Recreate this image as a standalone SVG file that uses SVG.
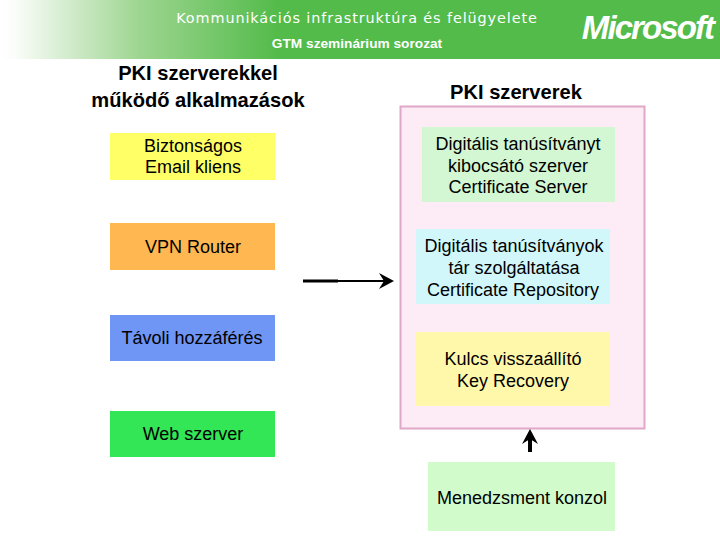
<svg xmlns="http://www.w3.org/2000/svg" width="720" height="540" viewBox="0 0 720 540">
<style>
text{font-family:"Liberation Sans",Arial,sans-serif;fill:#000;text-anchor:middle}
.n{font-size:18px}
.h{font-size:20.100px;font-weight:bold}
.c{fill:none;stroke:#000;stroke-linecap:butt}
</style>
<defs>
<linearGradient id="g" x1="0" x2="1" y1="0" y2="0">
<stop offset="0" stop-color="#fff"/><stop offset="0.05" stop-color="#fbfdfa"/><stop offset="0.5" stop-color="#9dd590"/><stop offset="1" stop-color="#52bb49"/>
</linearGradient>
</defs>
<g id="header">
<rect x="0" y="0" width="720" height="59" fill="#52bb49"/>
<rect x="0" y="0" width="280" height="59" fill="url(#g)"/>
<text x="357" y="23" style="font-family:'DejaVu Sans',sans-serif;fill:#fff;font-size:14.400px;letter-spacing:.9px">Kommunikációs infrastruktúra és felügyelete</text>
<text x="357" y="48" style="fill:#fff;font-size:13.700px;font-weight:bold">GTM szeminárium sorozat</text>
<text x="647.500" y="39" style="fill:#fff;font-size:33px;font-weight:bold;font-style:italic;letter-spacing:-1.900px">Microsoft</text>
</g>
<g id="title-left"><text class="h" x="198" y="80">PKI szerverekkel</text><text class="h" x="198" y="107">működő alkalmazások</text></g>
<g id="title-right"><text class="h" x="516" y="99">PKI szerverek</text></g>
<g id="pki-container"><rect x="400.500" y="106.500" width="244" height="322" fill="#fdebf5" stroke="#e0a8c8" stroke-width="2"/></g>
<g id="email"><rect x="110" y="133" width="165" height="47" fill="#ffff66"/><text class="n" x="193" y="152">Biztonságos</text><text class="n" x="193" y="173">Email kliens</text></g>
<g id="vpn"><rect x="110" y="223" width="165" height="47" fill="#ffb851"/><text class="n" x="193" y="253">VPN Router</text></g>
<g id="remote"><rect x="110" y="315" width="165" height="46" fill="#6f95f5"/><text class="n" x="192" y="344">Távoli hozzáférés</text></g>
<g id="web"><rect x="110" y="411" width="165" height="46" fill="#33e655"/><text class="n" x="193" y="440">Web szerver</text></g>
<g id="cert-server"><rect x="422" y="127" width="193" height="75" fill="#d2f7d2"/><text class="n" x="518" y="150">Digitális tanúsítványt</text><text class="n" x="518" y="172">kibocsátó szerver</text><text class="n" x="518" y="193">Certificate Server</text></g>
<g id="cert-repo"><rect x="416" y="229" width="194" height="75" fill="#d2f7fa"/><text class="n" x="514" y="252">Digitális tanúsítványok</text><text class="n" x="514" y="274">tár szolgáltatása</text><text class="n" x="513" y="296">Certificate Repository</text></g>
<g id="key-recovery"><rect x="416" y="332" width="194" height="74" fill="#fff8aa"/><text class="n" x="513" y="365">Kulcs visszaállító</text><text class="n" x="513" y="387">Key Recovery</text></g>
<g id="console"><rect x="428" y="462" width="187" height="69" fill="#d2fbcb"/><text class="n" x="522" y="504">Menedzsment konzol</text></g>
<g id="connectors">
<path class="c" stroke-width="3" d="M303 281H338"/><path class="c" stroke-width="2" d="M338 281H385"/>
<path d="M394 281L379 273L384 281L379 289Z" fill="#000"/>
<path class="c" stroke-width="4" d="M530 452V436"/>
<path d="M530 429L522 444L530 439L538 444Z" fill="#000"/>
</g>
</svg>
